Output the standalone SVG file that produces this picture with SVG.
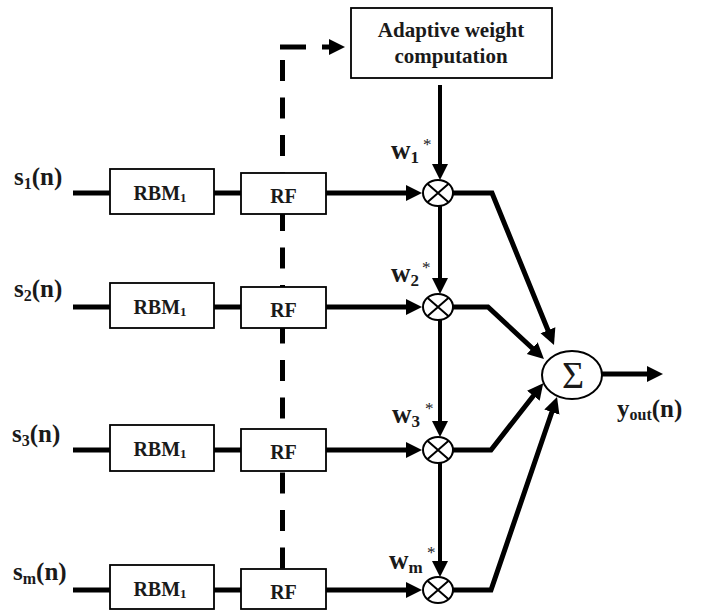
<svg xmlns="http://www.w3.org/2000/svg" width="712" height="611" viewBox="0 0 712 611">
<style>
  .box { fill: #fff; stroke: #000; stroke-width: 1.8; }
  .t { font-family: "Liberation Serif", "Times New Roman", serif; font-weight: bold; fill: #1a1a1a; }
  .lbl { font-size: 25px; }
  .wl { font-size: 27px; }
  .ast { font-size: 17px; font-weight: normal; }
  .bt { font-size: 20px; text-anchor: middle; }
  .at { font-size: 21px; text-anchor: middle; }
  .wire { fill: none; stroke: #000; stroke-width: 5; }
  .wv { fill: none; stroke: #000; stroke-width: 4; }
  .dash { fill: none; stroke: #000; stroke-width: 5; }
  .mul { fill: #fff; stroke: #000; stroke-width: 2; }
  .x { stroke: #000; stroke-width: 2; }
</style>
<defs>
  <marker id="arr" markerUnits="userSpaceOnUse" markerWidth="18" markerHeight="18" refX="2" refY="8" orient="auto" viewBox="0 0 18 16">
    <path d="M0,0 L16,8 L0,16 z" fill="#000"/>
  </marker>
</defs>
<rect width="712" height="611" fill="#fff"/>

<g id="connectors">
  <!-- dashed feedback -->
  <path class="dash" d="M282.5 60 V569" stroke-dasharray="21 16.5"/>
  <path class="dash" d="M280 47 H306"/>
  <path class="dash" d="M322 47 H331" marker-end="url(#arr)"/>
  <!-- inputs -->
  <path class="wire" d="M73 193 H110 M214 193 H241"/>
  <path class="wire" d="M73 307 H110 M214 307 H241"/>
  <path class="wire" d="M73 450 H110 M214 450 H241"/>
  <path class="wire" d="M73 590 H110 M214 590 H241"/>
  <!-- RF to multipliers -->
  <path class="wire" d="M326 193 H408" marker-end="url(#arr)"/>
  <path class="wire" d="M326 307 H408" marker-end="url(#arr)"/>
  <path class="wire" d="M326 450 H408" marker-end="url(#arr)"/>
  <path class="wire" d="M326 590 H408" marker-end="url(#arr)"/>
  <!-- weight chain -->
  <path class="wv" d="M440 85 V166" marker-end="url(#arr)"/>
  <path class="wv" d="M440 206 V280" marker-end="url(#arr)"/>
  <path class="wv" d="M440 320 V423" marker-end="url(#arr)"/>
  <path class="wv" d="M440 463 V563" marker-end="url(#arr)"/>
  <!-- to summer -->
  <path class="wire" d="M453 193 H492 L548.7 332" marker-end="url(#arr)"/>
  <path class="wire" d="M453 307 H488 L533.7 349.5" marker-end="url(#arr)"/>
  <path class="wire" d="M453 450 H491 L534.6 394.2" marker-end="url(#arr)"/>
  <path class="wire" d="M453 590 H491 L552.5 410.2" marker-end="url(#arr)"/>
  <!-- output -->
  <path class="wire" d="M602 374 H649" marker-end="url(#arr)"/>
</g>

<g id="adaptive">
  <rect class="box" x="351" y="8" width="201" height="70"/>
  <text class="t at" x="451" y="37">Adaptive weight</text>
  <text class="t at" x="451" y="63">computation</text>
</g>

<g id="row1">
  <text class="t lbl" x="14" y="185">s<tspan font-size="16" dy="4">1</tspan><tspan dy="-4">(n)</tspan></text>
  <g id="rbm1"><rect class="box" x="110" y="169" width="104" height="45"/><text class="t bt" x="160" y="200">RBM<tspan font-size="13" dy="2">1</tspan></text></g>
  <g id="rf1"><rect class="box" x="241" y="173" width="85" height="41"/><text class="t bt" x="283.5" y="203">RF</text></g>
  <g id="mul1"><ellipse class="mul" cx="438" cy="193" rx="15" ry="13"/><path class="x" d="M427.4 183.8 L448.6 202.2 M427.4 202.2 L448.6 183.8"/></g>
  <text class="t wl" x="391" y="159">w<tspan font-size="17" dy="4">1</tspan></text>
  <text class="t ast" x="423" y="150">*</text>
</g>

<g id="row2">
  <text class="t lbl" x="14" y="297">s<tspan font-size="16" dy="4">2</tspan><tspan dy="-4">(n)</tspan></text>
  <g id="rbm2"><rect class="box" x="110" y="283" width="104" height="45"/><text class="t bt" x="160" y="314">RBM<tspan font-size="13" dy="2">1</tspan></text></g>
  <g id="rf2"><rect class="box" x="241" y="287" width="85" height="41"/><text class="t bt" x="283.5" y="317">RF</text></g>
  <g id="mul2"><ellipse class="mul" cx="438" cy="307" rx="15" ry="13"/><path class="x" d="M427.4 297.8 L448.6 316.2 M427.4 316.2 L448.6 297.8"/></g>
  <text class="t wl" x="391" y="282">w<tspan font-size="17" dy="4">2</tspan></text>
  <text class="t ast" x="422" y="273">*</text>
</g>

<g id="row3">
  <text class="t lbl" x="12" y="442">s<tspan font-size="16" dy="4">3</tspan><tspan dy="-4">(n)</tspan></text>
  <g id="rbm3"><rect class="box" x="110" y="425" width="104" height="46"/><text class="t bt" x="160" y="456">RBM<tspan font-size="13" dy="2">1</tspan></text></g>
  <g id="rf3"><rect class="box" x="241" y="429" width="85" height="42"/><text class="t bt" x="283.5" y="459">RF</text></g>
  <g id="mul3"><ellipse class="mul" cx="438" cy="450" rx="15" ry="13"/><path class="x" d="M427.4 440.8 L448.6 459.2 M427.4 459.2 L448.6 440.8"/></g>
  <text class="t wl" x="392" y="423">w<tspan font-size="17" dy="4">3</tspan></text>
  <text class="t ast" x="425" y="414">*</text>
</g>

<g id="rowm">
  <text class="t lbl" x="13" y="580">s<tspan font-size="16" dy="4">m</tspan><tspan dy="-4">(n)</tspan></text>
  <g id="rbmm"><rect class="box" x="110" y="565" width="104" height="44"/><text class="t bt" x="160" y="596">RBM<tspan font-size="13" dy="2">1</tspan></text></g>
  <g id="rfm"><rect class="box" x="241" y="569" width="85" height="40"/><text class="t bt" x="283.5" y="599">RF</text></g>
  <g id="mulm"><ellipse class="mul" cx="438" cy="590" rx="15" ry="13"/><path class="x" d="M427.4 580.8 L448.6 599.2 M427.4 599.2 L448.6 580.8"/></g>
  <text class="t wl" x="389" y="569">w<tspan font-size="17" dy="4">m</tspan></text>
  <text class="t ast" x="427" y="558">*</text>
</g>

<g id="sum">
  <ellipse class="mul" cx="572" cy="375" rx="30" ry="24"/>
  <text x="573" y="388" font-family="Liberation Serif, serif" font-size="38" text-anchor="middle" fill="#1a1a1a">Σ</text>
</g>

<g id="output">
  <text class="t lbl" x="617" y="417">y<tspan font-size="16" dy="3">out</tspan><tspan dy="-3">(n)</tspan></text>
</g>
</svg>
